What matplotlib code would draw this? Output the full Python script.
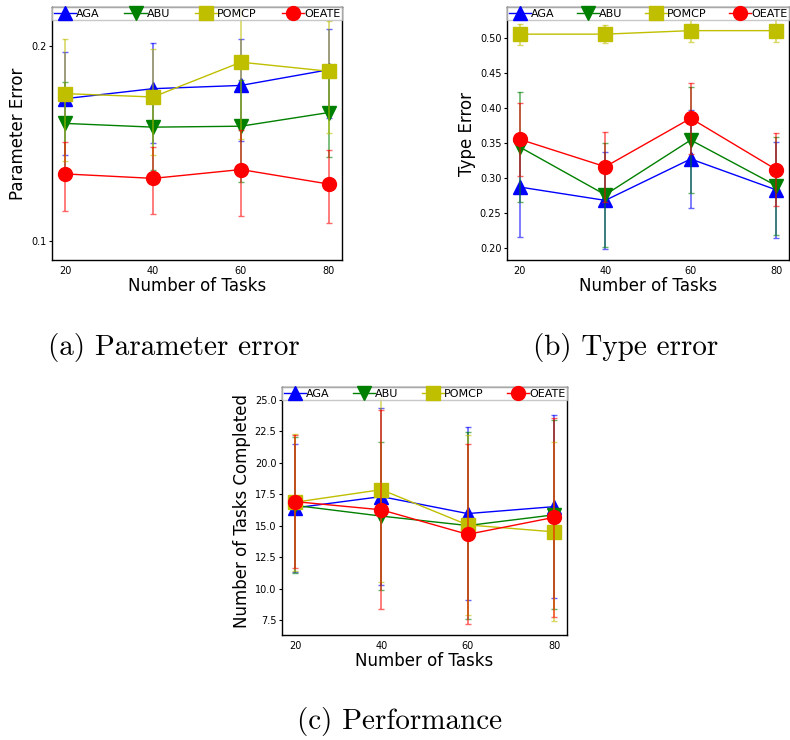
import numpy as np
import matplotlib
matplotlib.use('Agg')
import matplotlib.pyplot as plt
from matplotlib.ticker import NullLocator

# x values shared by all three panels
tasks = [20, 40, 60, 80]
names = ['AGA', 'ABU', 'POMCP', 'OEATE']

# (a) parameter error (mean, std)
param_aga = [0.166, 0.172, 0.174, 0.184]
param_aga_err = [0.030, 0.030, 0.031, 0.029]
param_abu = [0.152, 0.150, 0.1505, 0.158]
param_abu_err = [0.024, 0.021, 0.027, 0.023]
param_pomcp = [0.169, 0.167, 0.189, 0.183]
param_pomcp_err = [0.036, 0.031, 0.045, 0.036]
param_oeate = [0.127, 0.125, 0.129, 0.1225]
param_oeate_err = [0.0155, 0.0148, 0.0196, 0.0157]

# (b) type error
type_aga = [0.287, 0.268, 0.327, 0.283]
type_aga_err = [0.071, 0.069, 0.070, 0.068]
type_abu = [0.344, 0.276, 0.354, 0.289]
type_abu_err = [0.079, 0.074, 0.076, 0.070]
type_pomcp = [0.505, 0.505, 0.510, 0.510]
type_pomcp_err = [0.015, 0.013, 0.016, 0.016]
type_oeate = [0.355, 0.316, 0.385, 0.312]
type_oeate_err = [0.052, 0.050, 0.051, 0.052]

# (c) number of tasks completed
perf_aga = [16.4, 17.3, 15.95, 16.5]
perf_aga_err = [5.05, 7.05, 6.9, 7.25]
perf_abu = [16.6, 15.75, 15.0, 15.85]
perf_abu_err = [5.4, 5.9, 7.4, 7.5]
perf_pomcp = [16.85, 17.85, 15.05, 14.5]
perf_pomcp_err = [5.45, 7.3, 7.15, 7.1]
perf_oeate = [16.9, 16.25, 14.3, 15.65]
perf_oeate_err = [5.3, 7.9, 7.15, 7.9]

colors = ['b', 'g', 'y', 'r']
markers = ['^', 'v', 's', 'o']


def draw(ax, means, errs, ylabel):
    for name, m, e, c, mk in zip(names, means, errs, colors, markers):
        ax.errorbar(tasks, m, yerr=e, fmt='none', ecolor=c, alpha=0.6,
                    capsize=2, elinewidth=1.2, capthick=1)
        ax.plot(tasks, m, color=c, marker=mk, ms=10, lw=1, label=name)
    ax.set_xticks(tasks)
    ax.set_xlabel('Number of Tasks', fontsize=12, labelpad=1)
    ax.set_ylabel(ylabel, fontsize=12, labelpad=3)
    ax.tick_params(axis='y', labelsize=7, length=2.5, width=0.8, pad=1.5)
    ax.tick_params(axis='x', labelsize=7, length=0, pad=4)
    for s in ax.spines.values():
        s.set_linewidth(1)
    ax.legend(loc='upper left', bbox_to_anchor=(0, 0, 1, 1), mode='expand',
              ncol=4, fontsize=8, borderaxespad=0, handletextpad=0,
              borderpad=0.15, columnspacing=0.5, framealpha=0.8,
              fancybox=False, edgecolor='#bbbbbb')


fig = plt.figure(figsize=(7.9, 7.4), dpi=100)

ax_a = fig.add_axes([52/790, 1-260/740, 290/790, 253/740])
draw(ax_a, [param_aga, param_abu, param_pomcp, param_oeate],
     [param_aga_err, param_abu_err, param_pomcp_err, param_oeate_err],
     'Parameter Error')
ax_a.set_yscale('log')
ax_a.set_ylim(0.0935, 0.23)
ax_a.set_yticks([0.1, 0.2], ['0.1', '0.2'])
ax_a.yaxis.set_minor_locator(NullLocator())
ax_a.set_xlim(17, 83)

ax_b = fig.add_axes([507/790, 1-260/740, 282/790, 253/740])
draw(ax_b, [type_aga, type_abu, type_pomcp, type_oeate],
     [type_aga_err, type_abu_err, type_pomcp_err, type_oeate_err],
     'Type Error')
ax_b.set_ylim(0.183, 0.5437)
ax_b.set_yticks(np.arange(0.20, 0.51, 0.05))
ax_b.set_xlim(17, 83)

ax_c = fig.add_axes([282/790, 1-635/740, 285/790, 248/740])
draw(ax_c, [perf_aga, perf_abu, perf_pomcp, perf_oeate],
     [perf_aga_err, perf_abu_err, perf_pomcp_err, perf_oeate_err],
     'Number of Tasks Completed')
ax_c.set_ylim(6.31, 26.0)
ax_c.set_yticks(np.arange(7.5, 25.1, 2.5))
ax_c.set_xlim(17, 83)

# subfigure captions
fig.text(174/790, 1-347/740, '(a) Parameter error', family='cmr10', fontsize=21,
         ha='center', va='center')
fig.text(626/790, 1-347/740, '(b) Type error', family='cmr10', fontsize=21,
         ha='center', va='center')
fig.text(400/790, 1-721/740, '(c) Performance', family='cmr10', fontsize=21,
         ha='center', va='center')

fig.savefig('out.png', dpi=100)
